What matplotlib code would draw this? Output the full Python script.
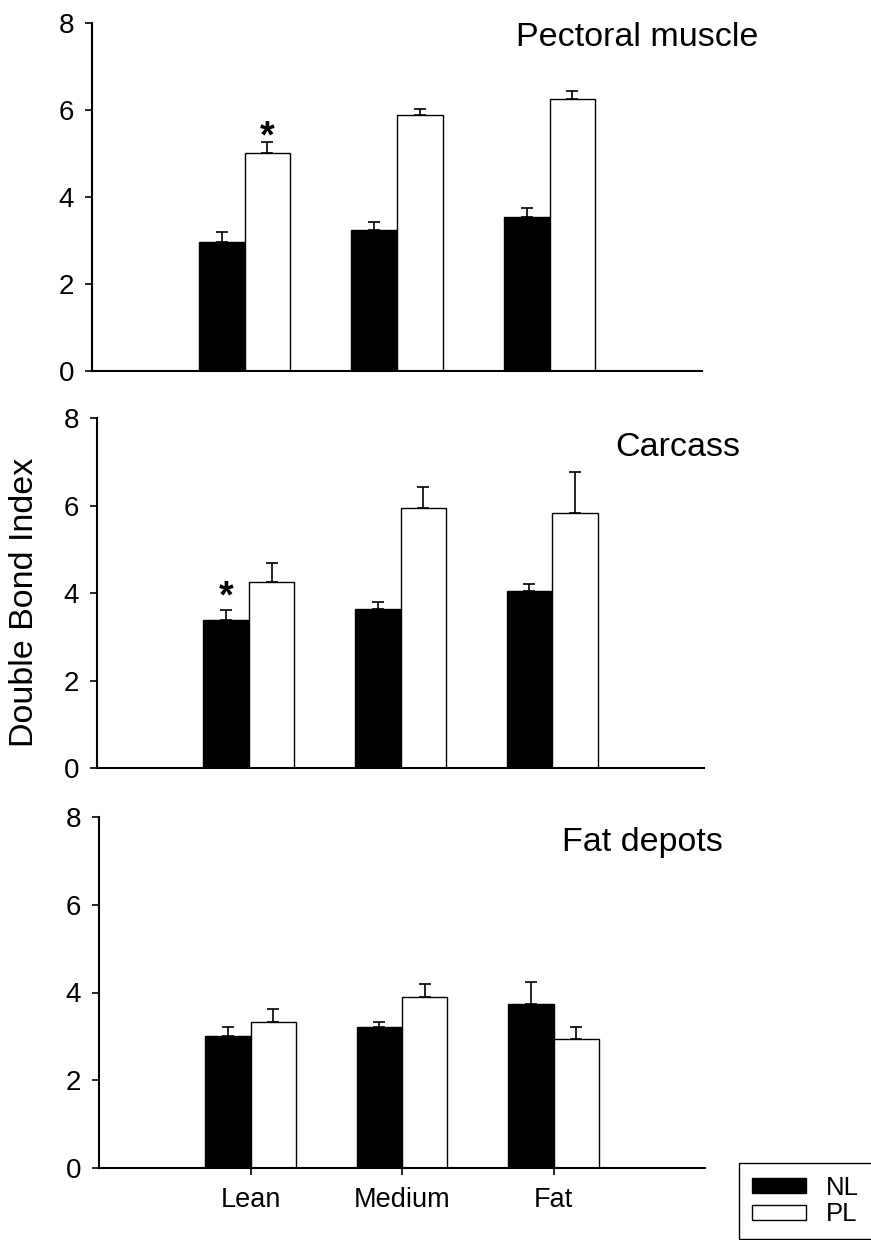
import numpy as np
import matplotlib
matplotlib.use("Agg")
import matplotlib.pyplot as plt
from matplotlib.patches import Patch

plt.rcParams['font.family'] = ['Liberation Sans', 'DejaVu Sans']

groups = ['Lean', 'Medium', 'Fat']
panels = ['Pectoral muscle', 'Carcass', 'Fat depots']

# means and upper SE
nl_mean = [[2.97, 3.24, 3.54],
           [3.38, 3.63, 4.05],
           [3.01, 3.21, 3.74]]
nl_err = [[0.23, 0.18, 0.20],
          [0.23, 0.17, 0.16],
          [0.20, 0.12, 0.50]]
pl_mean = [[5.01, 5.88, 6.25],
           [4.25, 5.94, 5.83],
           [3.33, 3.90, 2.94]]
pl_err = [[0.25, 0.14, 0.19],
          [0.44, 0.49, 0.94],
          [0.29, 0.29, 0.27]]

# significance stars: (panel, x, y)
stars = [(0, 1.15, 5.36), (1, 0.85, 3.89)]

# axes rectangles in pixels (left, right, y of 0, y of 8)
W, H = 871, 1240
boxes = [(92, 702, 371, 23), (97, 704, 768, 418), (99, 705, 1168, 817)]
title_pos = [(0.893, 0.957), (0.957, 0.917), (0.896, 0.926)]

fig = plt.figure(figsize=(W/100, H/100), dpi=100)
x = np.arange(1, 4)
bw = 0.30

for i in range(3):
    l, r, y0, y8 = boxes[i]
    ax = fig.add_axes([l/W, 1-y0/H, (r-l)/W, (y0-y8)/H])
    ax.bar(x - bw/2, nl_mean[i], bw, color='black', edgecolor='black', linewidth=1.0, zorder=2)
    ax.bar(x + bw/2, pl_mean[i], bw, color='white', edgecolor='black', linewidth=1.0, zorder=2)
    ax.errorbar(x - bw/2, nl_mean[i], yerr=[np.zeros(3), nl_err[i]], fmt='none',
                ecolor='black', elinewidth=1.2, capsize=4, capthick=1.2, zorder=3)
    ax.errorbar(x + bw/2, pl_mean[i], yerr=[np.zeros(3), pl_err[i]], fmt='none',
                ecolor='black', elinewidth=1.2, capsize=4, capthick=1.2, zorder=1)
    ax.set_xlim(0, 4)
    ax.set_ylim(0, 8)
    ax.set_yticks([0, 2, 4, 6, 8])
    for s in ['top', 'right']:
        ax.spines[s].set_visible(False)
    for s in ['left', 'bottom']:
        ax.spines[s].set_linewidth(1.5)
    ax.tick_params(axis='y', direction='out', length=5, width=1.2, pad=8, labelsize=20)
    if i < 2:
        ax.set_xticks([])
    else:
        ax.set_xticks(x)
        ax.set_xticklabels(groups)
        ax.tick_params(axis='x', direction='out', length=5, width=1.2, pad=9, labelsize=19.5)
    ax.text(title_pos[i][0], title_pos[i][1], panels[i], transform=ax.transAxes,
            ha='center', va='center', fontsize=24.5)
    for p, sx, sy in stars:
        if p == i:
            ax.text(sx, sy, '*', ha='center', va='center', fontsize=27, fontweight='bold')

fig.text(25/W, 1-602/H, 'Double Bond Index', rotation=90, ha='center', va='center', fontsize=24.5)

handles = [Patch(facecolor='black', edgecolor='black', linewidth=1.0),
           Patch(facecolor='white', edgecolor='black', linewidth=1.0)]
leg = fig.legend(handles, ['NL', 'PL'], loc='upper left',
                 bbox_to_anchor=(739/W, -0.1, 0.3, 1-1163/H+0.1), mode='expand',
                 borderaxespad=0, fancybox=False, edgecolor='black', framealpha=1,
                 fontsize=18.5, handlelength=2.1, handleheight=0.5, labelspacing=0.1,
                 handletextpad=0.8, borderpad=0.5)
leg.get_frame().set_linewidth(1.0)

fig.savefig('out.png', dpi=100)
